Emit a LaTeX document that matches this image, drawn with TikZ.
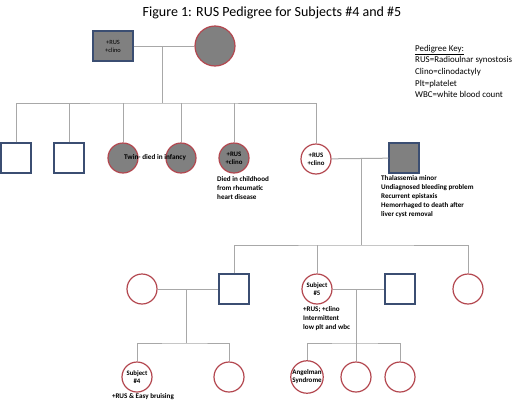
\documentclass[tikz,border=0pt]{standalone}
\usepackage{fontspec}
\setmainfont{Carlito}
\usepackage{tikz}
\usetikzlibrary{positioning}
\definecolor{pedline}{HTML}{A8A8A8}
\definecolor{pedmale}{HTML}{3B4E72}
\definecolor{pedfemale}{HTML}{B3474F}
\definecolor{pedfill}{HTML}{808080}

\begin{document}
\begin{tikzpicture}[
  x=1pt,y=-1pt,
  male/.style={draw=pedmale,line width=1.2pt,minimum size=30pt,inner sep=0pt,
    align=center,font=\fontsize{6.8}{8}\selectfont\bfseries},
  female/.style={circle,draw=pedfemale,line width=1.2pt,minimum size=30pt,
    inner sep=0pt,align=center,font=\fontsize{6.8}{8}\selectfont\bfseries},
  affected/.style={fill=pedfill},
  link/.style={draw=pedline,line width=1pt},
  note/.style={font=\fontsize{7.1}{9}\selectfont\bfseries,align=left,inner sep=0pt},
  key/.style={font=\fontsize{8.9}{11.6}\selectfont,align=left,inner sep=0pt}
]
  \useasboundingbox (0,0) rectangle (520,402);
  \node[font=\fontsize{14}{16}\selectfont] (title) at (272,13)
    {Figure 1: RUS Pedigree for Subjects \#4 and \#5};

  % generation I
  \node[male,affected,minimum width=40pt,font=\fontsize{6.4}{8}\selectfont]
    (grandpa) at (113,46) {+RUS\\+clino};
  \node[female,affected,minimum size=40pt] (grandma) at (215,46) {};
  \draw[link] (grandpa) -- (grandma);
  \coordinate (gen1drop) at (162,103);
  \draw[link] (gen1drop) -- (gen1drop |- grandpa);

  % generation II
  \node[male] (son1) at (16,158) {};
  \node[male] (son2) at (69,158) {};
  \node[female,affected] (twin1) at (123,158) {};
  \node[female,affected] (twin2) at (181,158) {};
  \node[font=\fontsize{7.2}{8}\selectfont\bfseries,inner sep=0pt] (twins)
    at (155,158) {Twin- died in infancy};
  \node[female,affected] (dau5) at (234,158) {+RUS\\+clino};
  \node[note,anchor=north west] (dau5note) at (217,176)
    {Died in childhood\\from rheumatic\\heart disease};
  \node[female] (dau6) at (316,159) {+RUS\\+clino};
  \node[male,affected] (inlaw) at (404,158) {};
  \node[note,anchor=north west] (inlawnote) at (381,175)
    {Thalassemia minor\\Undiagnosed bleeding problem\\Recurrent epistaxis\\
     Hemorrhaged to death after\\liver cyst removal};

  \draw[link] (son1) |- (gen1drop) -| (dau6);
  \foreach \kid in {son2,twin1,twin2,dau5}
    \draw[link] (\kid) -- (\kid |- gen1drop);

  \draw[link] (dau6) -- (inlaw);
  \coordinate (gen2drop) at (361,245);
  \draw[link] (gen2drop) -- (gen2drop |- dau6);

  % generation III
  \node[female] (wife) at (142,289) {};
  \node[male] (grandson) at (234,289) {};
  \node[female] (subj5) at (317,289) {Subject\\\#5};
  \node[note,anchor=north west] (subj5note) at (303,306)
    {+RUS; +clino\\Intermittent\\low plt and wbc};
  \node[male] (husband) at (400,289) {};
  \node[female] (niece) at (468,289) {};

  \draw[link] (grandson) |- (gen2drop) -| (niece);
  \draw[link] (subj5) -- (subj5 |- gen2drop);
  \draw[link] (wife) -- (grandson);
  \draw[link] (subj5) -- (husband);

  % generation IV
  \coordinate (gen3left) at (186,343);
  \coordinate (gen3right) at (356,343);
  \node[female] (subj4) at (137,377) {Subject\\\#4};
  \node[note,anchor=north] (subj4note) at (143,393) {+RUS \& Easy bruising};
  \node[female] (sis4) at (229,377) {};
  \node[female,font=\fontsize{7}{8}\selectfont\bfseries] (angel) at (307,377)
    {Angelman\\Syndrome};
  \node[female] (kid2) at (356,377) {};
  \node[female] (kid3) at (400,377) {};

  \draw[link] (gen3left) -- (gen3left |- wife);
  \draw[link] (subj4) |- (gen3left) -| (sis4);
  \draw[link] (gen3right) -- (gen3right |- subj5);
  \draw[link] (angel) |- (gen3right) -| (kid3);
  \draw[link] (kid2) -- (gen3right);

  % key
  \node[key,anchor=north west] (pedkey) at (415,45)
    {\underline{Pedigree Key:}\\RUS=Radioulnar synostosis\\Clino=clinodactyly\\
     Plt=platelet\\WBC=white blood count};
\end{tikzpicture}
\end{document}
